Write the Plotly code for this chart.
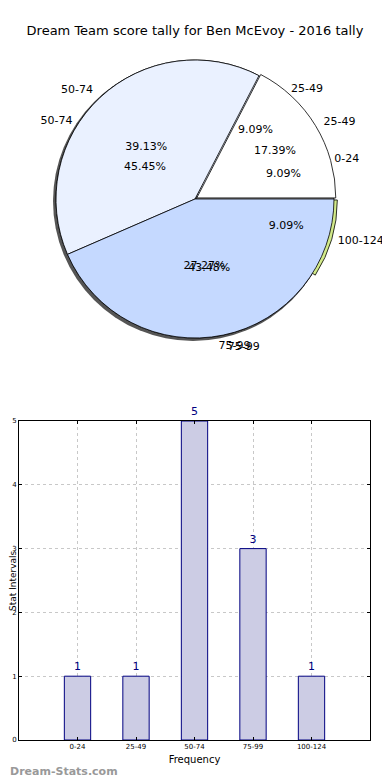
import plotly.graph_objects as go

# The page body has an 8px margin, so the figure is sized to fit the window
OFF = 8
FW, FH = 390 - OFF, 780 - OFF

# ---- data ----
intervals = ["0-24", "25-49", "50-74", "75-99", "100-124"]
counts = [1, 1, 5, 3, 1]
pie2_labels = ["25-49", "50-74", "75-99"]
pie2_values = [4, 9, 10]

pie1_colors = ["#FFFFFF", "#EAF1FF", "#C5D9FF", "#C5D9FF", "#D2EA8A"]
pie2_colors = ["#FFFFFF", "#EAF1FF", "#C5D9FF"]
pie1_pull = [0.0, 0.0, 0.0, 0.0, 0.025]
pie2_pull = [0.015, 0.0, 0.0]

title_text = "Dream Team score tally for Ben McEvoy - 2016 tally"


def px(X):
    return (X - OFF) / FW


def py(Y):
    return 1 - (Y - OFF) / FH


# pie geometry (window pixels)
cx, cy, r = 195, 199, 139


def dom(cxp, cyp, rr, maxpull):
    half = rr * (1 + maxpull)
    return dict(x=[px(cxp - half), px(cxp + half)], y=[py(cyp + half), py(cyp - half)])


def start_rot(vals):
    # start first wedge at 3 o'clock, counter-clockwise (matplotlib style)
    return 90 - 360.0 * vals[0] / sum(vals)


fig = go.Figure()

# shadow
fig.add_trace(go.Pie(values=[1], labels=["shadow"], sort=False,
                     marker=dict(colors=["#555555"], line=dict(width=0)),
                     textinfo="none", hoverinfo="skip", showlegend=False, automargin=False,
                     domain=dom(cx - 2, cy + 2, r + 1, 0.0)))

common = dict(sort=False, direction="counterclockwise", showlegend=False, hoverinfo="skip",
              automargin=False)
tfont = dict(size=11, color="#000", family="DejaVu Sans")

pies = [(intervals, counts, pie1_pull, pie1_colors),
        (pie2_labels, pie2_values, pie2_pull, pie2_colors)]
pct_scale = [0.85, 1.0]
lab_scale = [1.02, 1.04]

# wedges
for labs, vals, pull, cols in pies:
    fig.add_trace(go.Pie(labels=labs, values=vals, pull=pull, rotation=start_rot(vals),
                         marker=dict(colors=cols, line=dict(color="#000", width=0.8)),
                         textinfo="none", domain=dom(cx, cy, r, max(pull)), **common))

# percentages (inside) and labels (outside) on transparent copies, drawn on top
for (labs, vals, pull, cols), sc in zip(pies, pct_scale):
    fig.add_trace(go.Pie(labels=labs, values=vals, pull=pull, rotation=start_rot(vals),
                         marker=dict(colors=["rgba(0,0,0,0)"] * len(vals), line=dict(width=0)),
                         texttemplate="%{percent:.2%}", textposition="inside",
                         insidetextorientation="horizontal", textfont=tfont,
                         domain=dom(cx, cy, r * sc, max(pull)), **common))
for (labs, vals, pull, cols), sc in zip(pies, lab_scale):
    fig.add_trace(go.Pie(labels=labs, values=vals, pull=pull, rotation=start_rot(vals),
                         marker=dict(colors=["rgba(0,0,0,0)"] * len(vals), line=dict(width=0)),
                         textinfo="label", textposition="outside", textfont=tfont,
                         domain=dom(cx, cy, r * sc, max(pull)), **common))

# ---- bar chart ----
fig.add_trace(go.Bar(x=intervals, y=counts, width=0.45, xaxis="x", yaxis="y",
                     marker=dict(color="#CCCCE4", line=dict(color="#000080", width=1)),
                     text=[str(c) for c in counts], textposition="outside",
                     textfont=dict(color="#000080", size=11, family="DejaVu Sans"),
                     cliponaxis=False, showlegend=False, hoverinfo="skip"))

axis_common = dict(showline=True, linecolor="#000", linewidth=1, mirror="ticks",
                   ticks="inside", ticklen=3, tickcolor="#000",
                   showgrid=True, gridcolor="#C8C8C8", griddash="dot", gridwidth=1,
                   tickfont=dict(size=7, family="DejaVu Sans", color="#000"),
                   zeroline=False, automargin=False)

fig.update_layout(
    width=FW, height=FH,
    margin=dict(l=0, r=0, t=0, b=0, autoexpand=False),
    paper_bgcolor="#FFFFFF", plot_bgcolor="#FFFFFF",
    font=dict(family="DejaVu Sans", color="#000"),
    title=dict(text=title_text, x=px(195), xanchor="center", y=py(30), yanchor="middle",
               font=dict(size=13, color="#000", family="DejaVu Sans")),
    xaxis=dict(domain=[px(19), px(370)], anchor="y", range=[-1, 5],
               title=dict(text="Frequency", font=dict(size=10), standoff=5), **axis_common),
    yaxis=dict(domain=[py(740), py(421)], anchor="x", range=[0, 5], dtick=1, **axis_common),
    annotations=[
        dict(text="Stat Intervals", x=px(13), y=py(581), xref="paper", yref="paper",
             xanchor="center", yanchor="middle", textangle=-90, showarrow=False,
             font=dict(size=9, color="#000", family="DejaVu Sans")),
        dict(text="<b>Dream-Stats.com</b>", x=px(8), y=py(771), xref="paper", yref="paper",
             xanchor="left", yanchor="middle", showarrow=False,
             font=dict(size=11, color="#999999", family="DejaVu Sans")),
    ],
)

fig.write_html("out.html")
